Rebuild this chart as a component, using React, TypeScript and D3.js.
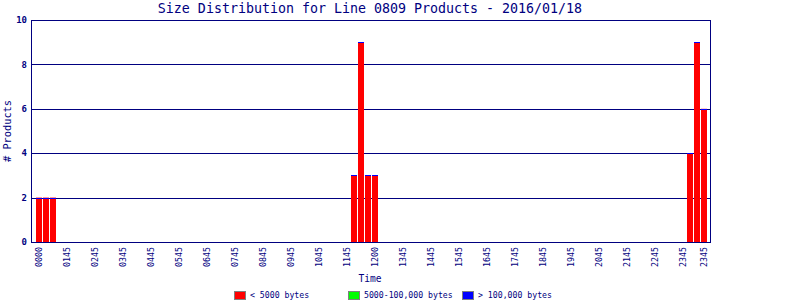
import React from "react";
import * as d3 from "d3";

const TITLE = "Size Distribution for Line 0809 Products - 2016/01/18";
const Y_TITLE = "# Products";
const X_TITLE = "Time";

// 96 fifteen-minute slots (index 0 = 00:00)
const smallCounts = [
  2, 2, 2, 0, 0, 0, 0, 0, 0, 0, 0, 0,
  0, 0, 0, 0, 0, 0, 0, 0, 0, 0, 0, 0,
  0, 0, 0, 0, 0, 0, 0, 0, 0, 0, 0, 0,
  0, 0, 0, 0, 0, 0, 0, 0, 0, 3, 9, 3,
  3, 0, 0, 0, 0, 0, 0, 0, 0, 0, 0, 0,
  0, 0, 0, 0, 0, 0, 0, 0, 0, 0, 0, 0,
  0, 0, 0, 0, 0, 0, 0, 0, 0, 0, 0, 0,
  0, 0, 0, 0, 0, 0, 0, 0, 0, 4, 9, 6,
];
const mediumCounts = new Array(96).fill(0);
const largeCounts = new Array(96).fill(0);

const tickSlots = [0, 4, 8, 12, 16, 20, 24, 28, 32, 36, 40, 44, 48, 52, 56, 60, 64, 68, 72, 76, 80, 84, 88, 92, 95];
const tickLabels = [
  "0000", "0145", "0245", "0345", "0445", "0545", "0645", "0745", "0845", "0945",
  "1045", "1145", "1200", "1345", "1445", "1545", "1645", "1745", "1845", "1945",
  "2045", "2145", "2245", "2345", "2345",
];
const yTicks = [0, 2, 4, 6, 8, 10];

const legendLabels = ["< 5000 bytes", "5000-100,000 bytes", "> 100,000 bytes"];
const legendColors = ["#ff0000", "#00ff00", "#0000ff"];

const NAVY = "#000080";
const MONO = "'DejaVu Sans Mono', 'Liberation Mono', monospace";

export default function App() {
  const W = 800, H = 300;
  const left = 31, right = 710, top = 20, bottom = 242;
  const slots = d3.range(smallCounts.length);
  const x = d3.scaleBand<number>().domain(slots).range([36, 708]).padding(0);
  const y = d3.scaleLinear().domain([0, 10]).range([bottom, top]);

  const bars = slots.map((i) => {
    const s = smallCounts[i], m = mediumCounts[i], l = largeCounts[i];
    const total = s + m + l;
    return { i, s, m, l, total };
  });

  const legendX = [234, 348, 462];

  return (
    <svg width={W} height={H} style={{ position: "absolute", left: 0, top: 0, background: "#fff" }}>
      <rect x={0} y={0} width={W} height={H} fill="#fff" />
      <text x={370} y={13} textAnchor="middle" fontFamily={MONO} fontSize={13.3} fill={NAVY}>
        {TITLE}
      </text>
      {/* gridlines */}
      {yTicks.filter((t) => t > 0 && t < 10).map((t) => (
        <line key={t} x1={left} x2={right} y1={Math.round(y(t)) + 0.5} y2={Math.round(y(t)) + 0.5} stroke={NAVY} strokeWidth={1} />
      ))}
      {/* bars */}
      {bars.filter((b) => b.total > 0).map((b) => {
        const bx = x(b.i)!;
        const bw = x.bandwidth() - 1;
        const ys = y(b.s);
        const ym = y(b.s + b.m);
        const yl = y(b.total);
        return (
          <g key={b.i}>
            <rect x={bx} y={ys} width={bw} height={bottom - ys} fill={legendColors[0]} />
            {b.m > 0 && <rect x={bx} y={ym} width={bw} height={ys - ym} fill={legendColors[1]} />}
            <rect x={bx} y={Math.round(yl) - 0} width={bw} height={Math.max(1, ym - yl)} fill={legendColors[2]} />
          </g>
        );
      })}
      {/* frame */}
      <rect x={left + 0.5} y={top + 0.5} width={right - left} height={bottom - top} fill="none" stroke={NAVY} strokeWidth={1} />
      {/* y tick labels */}
      {yTicks.map((t) => (
        <text key={t} x={27} y={y(t)} dy="0.35em" textAnchor="end" fontFamily={MONO} fontWeight="bold" fontSize={9} fill={NAVY}>
          {t}
        </text>
      ))}
      <text transform={`translate(11,${(top + bottom) / 2}) rotate(-90)`} textAnchor="middle" fontFamily={MONO} fontSize={10.3} fill={NAVY}>
        {Y_TITLE}
      </text>
      {/* x tick labels */}
      {tickSlots.map((s, k) => {
        const cx = x(s)! + 3;
        return (
          <text key={k} transform={`translate(${cx},247) rotate(-90)`} dy="0.35em" textAnchor="end" fontFamily={MONO} fontSize={8.3} fill={NAVY}>
            {tickLabels[k]}
          </text>
        );
      })}
      <text x={370} y={282} textAnchor="middle" fontFamily={MONO} fontSize={9.6} fill={NAVY}>
        {X_TITLE}
      </text>
      {/* legend */}
      {legendLabels.map((lab, k) => (
        <g key={k}>
          <rect x={legendX[k] + 0.5} y={291.5} width={11} height={8} fill={legendColors[k]} stroke="#808080" strokeWidth={1} />
          <text x={legendX[k] + 16} y={298} fontFamily={MONO} fontSize={8.2} fill={NAVY}>
            {lab}
          </text>
        </g>
      ))}
    </svg>
  );
}
